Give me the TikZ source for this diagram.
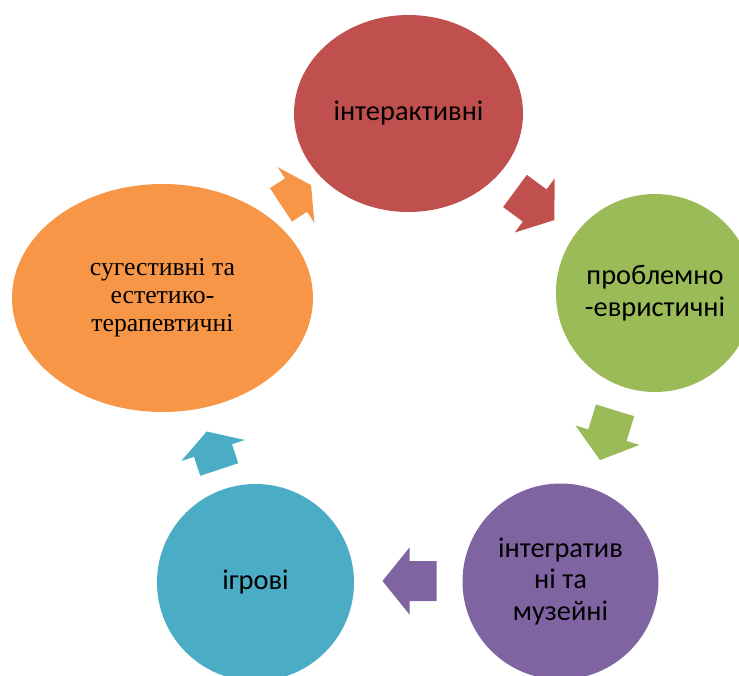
\documentclass[tikz,border=0pt]{standalone}
\usepackage{fontspec}
\setmainfont{Carlito}
\newfontfamily\serifcyr{Liberation Serif}
\usetikzlibrary{shapes.geometric}
\definecolor{cred}{HTML}{C0504D}
\definecolor{cgreen}{HTML}{9BBB59}
\definecolor{cpurple}{HTML}{8064A2}
\definecolor{cteal}{HTML}{4BACC6}
\definecolor{corange}{HTML}{F79646}
\newcommand\blkarrow[5]{%
  \fill[#5, shift={(#1,#2)}, rotate=#3]
    (-#4/2,-20) -- (0,-20) -- (0,-33.5) -- (#4/2,0) -- (0,33.5) -- (0,20) -- (-#4/2,20) -- cycle;}
\tikzset{
  bubble/.style={ellipse, inner sep=0pt, align=center, text=black,
    font=\fontsize{21.3}{23.8}\selectfont},
  serifbubble/.style={bubble, font=\serifcyr\fontsize{19.3}{21}\selectfont},
}
\begin{document}
\begin{tikzpicture}[x=0.75pt, y=-0.75pt]
\useasboundingbox (0,0) rectangle (739,675);
\begin{scope}
\clip (0,0) rectangle (739,675);
\node[bubble, fill=cred, minimum width=171.75pt, minimum height=147.75pt] (inter) at (408.5,113.5) {інтерактивні};
\node[bubble, fill=cgreen, minimum width=148.5pt, minimum height=148.5pt] (probl) at (655,293) {проблемно\\-евристичні};
\node[bubble, fill=cpurple, minimum width=147pt, minimum height=147pt] (integr) at (560.5,581.5) {інтегратив\\ні та\\музейні};
\node[bubble, fill=cteal, minimum width=147.75pt, minimum height=147.75pt] (igr) at (255.5,582.5) {ігрові};
\node[serifbubble, fill=corange, minimum width=225.75pt, minimum height=171pt] (suge) at (162.5,298) {сугестивні та\\естетико-\\терапевтичні};
\end{scope}
\blkarrow{296}{195}{33.4}{36}{corange}
\blkarrow{534.7}{205.5}{-36.4}{49}{cred}
\blkarrow{607.5}{435.2}{-106.9}{52}{cgreen}
\blkarrow{409.5}{581}{180}{54}{cpurple}
\blkarrow{213}{450.5}{108.4}{40}{cteal}
\end{tikzpicture}
\end{document}
